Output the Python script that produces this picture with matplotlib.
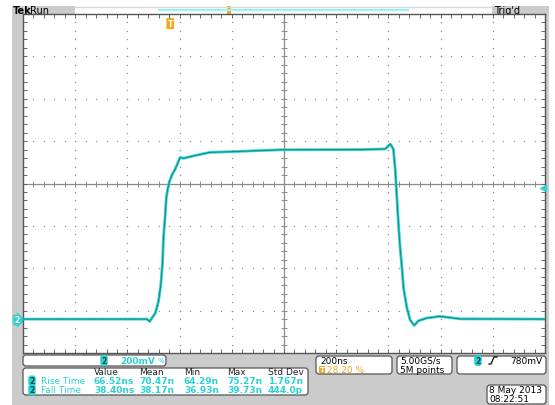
import numpy as np
import matplotlib
matplotlib.use("Agg")
from matplotlib import pyplot as plt
from matplotlib.patches import Rectangle, FancyBboxPatch
from matplotlib.transforms import blended_transform_factory

# trace: time in ns (0 = trigger), channel 2 in mV
time_ns = [-564, -89, -79, -70, -57, -45, -36, -29, -26, -20, -15, -9, -3, 7, 19, 38, 51, 102, 153, 230,
           421, 728, 824, 843, 855, 862, 868, 875, 881, 888, 894, 907, 919, 935, 951, 983, 1034, 1111, 1436]
ch2_mv = [0, 0, -11, 5, 28, 83, 162, 272, 382, 476, 571, 618, 649, 681, 708, 763, 759, 774, 787, 790,
          799, 800, 803, 826, 803, 708, 582, 440, 335, 241, 146, 52, -3, -30, -8, 5, 13, 1, 0]

# scope settings
time_div = 200          # ns / div
volt_div = 200          # mV / div
trig_pos = 0.282        # trigger position in record
ground_div = -3.2       # channel 2 position
trig_mark_mv = 620

# measurement table
meas_cols = ["Value", "Mean", "Min", "Max", "Std Dev"]
meas_names = ["Rise Time", "Fall Time"]
meas_vals = [["66.52ns", "70.47n", "64.29n", "75.27n", "1.767n"],
             ["38.40ns", "38.17n", "36.93n", "39.73n", "444.0p"]]

CYAN = "#2ad2d2"
DARK = "#147c7c"
ORANGE = "#f5a623"
GRAY = "#cbcbcb"
W, H = 555, 406

fig = plt.figure(figsize=(W / 100, H / 100), dpi=100)
fig.patch.set_facecolor("white")

# background layer in pixel coordinates
bg = fig.add_axes([0, 0, 1, 1])
bg.set_xlim(0, W)
bg.set_ylim(H, 0)
bg.axis("off")
bg.add_patch(Rectangle((12, 7), 537, 399, fc=GRAY, ec="none"))
bg.add_patch(Rectangle((75, 7), 417, 8, fc="white", ec="none"))
bg.plot([75, 492], [7.5, 7.5], color="#d8d8d8", lw=1)
bg.plot([159, 408], [10.5, 10.5], color="#9ff0f0", lw=1.6)
bg.add_patch(Rectangle((227, 7), 4, 8, fc=ORANGE, ec="none"))
bg.text(13, 11.5, "Tek", fontsize=7, fontweight="bold", va="center", ha="left")
bg.text(30, 11.5, "Run", fontsize=7, va="center", ha="left")
bg.text(494, 11.5, "Trig'd", fontsize=7, va="center", ha="left")


def box(x0, y0, x1, y1):
    bg.add_patch(FancyBboxPatch((x0, y0), x1 - x0, y1 - y0, boxstyle="round,pad=0,rounding_size=3",
                                fc="white", ec="#555555", lw=0.9))


def badge(x, y, s="2"):
    bg.text(x, y, s, fontsize=5.5, fontweight="bold", ha="center", va="center", color="#114444",
            bbox=dict(boxstyle="round,pad=0.15,rounding_size=0.45", fc=CYAN, ec="none"))


# channel box
box(23, 356, 166, 367)
badge(104, 361.5)
bg.text(120, 361.5, "200mV", fontsize=6.5, color=CYAN, fontweight="bold", va="center")
bg.text(158, 361.5, "%", fontsize=5, color=CYAN, va="center")

# measurement box
box(23, 369, 308, 396)
col_x = [94, 139, 184, 227, 268]
for cx, name in zip(col_x, meas_cols):
    bg.text(cx, 373, name, fontsize=6.5, va="center", color="#222222")
for r, (name, vals) in enumerate(zip(meas_names, meas_vals)):
    yy = 382 + r * 9
    badge(32, yy)
    bg.text(41, yy, name, fontsize=6.5, va="center", color=CYAN)
    for cx, v in zip(col_x, vals):
        bg.text(cx, yy, v, fontsize=6.5, va="center", color=CYAN, fontweight="bold")

# timebase / acquisition / trigger boxes
box(316, 357, 392, 375)
bg.text(320, 361.5, f"{time_div}ns", fontsize=6.5, va="center")
bg.text(322, 370.5, "T", fontsize=5, fontweight="bold", color="white", ha="center", va="center",
        bbox=dict(boxstyle="square,pad=0.1", fc=ORANGE, ec="none"))
bg.text(327, 370.5, f"{trig_pos * 100:.2f} %", fontsize=6.5, va="center", color=ORANGE)
box(397, 357, 452, 375)
bg.text(400, 361.5, "5.00GS/s", fontsize=6.5, va="center")
bg.text(400, 370.5, "5M points", fontsize=6.5, va="center")
box(457, 357, 546, 375)
badge(478, 361.5)
bg.plot([489, 491, 494, 497], [365, 365, 358, 358], color="black", lw=0.9)
bg.text(542, 361.5, "780mV", fontsize=6.5, va="center", ha="right")
box(487, 386, 546, 405)
bg.text(542, 390.5, "8 May 2013", fontsize=6.5, va="center", ha="right")
bg.text(489, 399.5, "08:22:51", fontsize=6.5, va="center", ha="left")

# ground reference marker
bg.text(14, 321, "2", fontsize=5.5, color="white", fontweight="bold", va="center", ha="left",
        bbox=dict(boxstyle="rarrow,pad=0.1", fc=CYAN, ec="none"))

# main graticule
ax = fig.add_axes([23 / W, 1 - 354 / H, 522 / W, 339 / H])
ax.set_zorder(2)
x_lo = -trig_pos * 10 * time_div
x_hi = x_lo + 10 * time_div
y_ctr = -ground_div * volt_div
y_lo, y_hi = y_ctr - 4 * volt_div, y_ctr + 4 * volt_div
x_ctr = (x_lo + x_hi) / 2
ax.set_xlim(x_lo, x_hi)
ax.set_ylim(y_lo, y_hi)

xs_major = x_lo + time_div * np.arange(1, 10)
ys_major = y_lo + volt_div * np.arange(1, 8)
xs_minor = x_lo + time_div / 5 * np.arange(0, 51)
ys_minor = y_lo + volt_div / 5 * np.arange(0, 41)
gx, gy = [], []
for xm in xs_major:
    gx += [xm] * len(ys_minor)
    gy += list(ys_minor)
for ym in ys_major:
    gx += list(xs_minor)
    gy += [ym] * len(xs_minor)
ax.scatter(gx, gy, s=1.0, color="#8c8c8c", lw=0, zorder=1)
ax.axhline(y_ctr, color="#8a8a8a", lw=0.9, zorder=1)
ax.axvline(x_ctr, color="#8a8a8a", lw=0.9, zorder=1)
ax.plot(xs_minor, [y_ctr] * len(xs_minor), ls="none", marker="|", ms=4, mew=0.7, color="#8a8a8a", zorder=1)
ax.plot([x_ctr] * len(ys_minor), ys_minor, ls="none", marker="_", ms=4, mew=0.7, color="#8a8a8a", zorder=1)

ax.set_xticks(xs_minor)
ax.set_yticks(ys_minor)
ax.tick_params(direction="in", length=3, width=0.7, color="#666666", top=True, right=True,
               labelbottom=False, labelleft=False)
for sp in ax.spines.values():
    sp.set_color("#555555")
    sp.set_linewidth(1.0)

# trace
ax.plot(time_ns, ch2_mv, color=CYAN, lw=2.0, solid_joinstyle="round", zorder=3)
ax.plot(time_ns, ch2_mv, color=DARK, lw=0.6, zorder=4)

# trigger position and level markers
tr = blended_transform_factory(ax.transData, ax.transAxes)
ax.text(0, 0.985, "T", transform=tr, fontsize=5.5, fontweight="bold", color="white", ha="center",
        va="top", clip_on=False, bbox=dict(boxstyle="round,pad=0.15", fc=ORANGE, ec="none"))
ax.plot([x_hi - 8], [trig_mark_mv], marker="<", ms=4, color=CYAN, clip_on=False, zorder=5)

fig.savefig("out.png", dpi=100)
